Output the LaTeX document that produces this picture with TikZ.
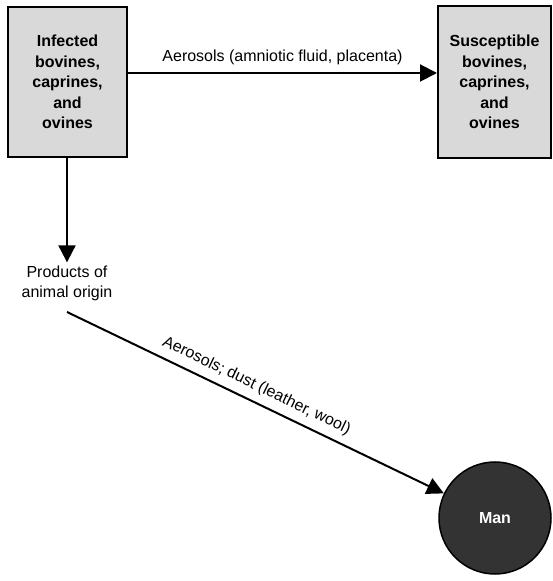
\documentclass[tikz,border=0pt]{standalone}
\usepackage{fontspec}
\setmainfont{Liberation Sans}
\usetikzlibrary{arrows.meta}
\definecolor{boxgray}{HTML}{D9D9D9}
\definecolor{mandark}{HTML}{333333}
\tikzset{
  hostbox/.style={draw=black, line width=2pt, fill=boxgray, align=center,
    font=\fontsize{16}{20.5}\selectfont\bfseries},
  plain/.style={align=center, font=\fontsize{16}{20}\selectfont},
  route/.style={line width=2pt, -{Triangle[length=17pt,width=17pt]}},
  lbl/.style={font=\fontsize{16}{19}\selectfont, inner sep=2pt}
}
\begin{document}
\begin{tikzpicture}[x=1pt,y=1pt]
  \useasboundingbox (0,0) rectangle (552,581);
  % animal hosts
  \node[hostbox, minimum width=119pt, minimum height=150pt] (src) at (67.5,499)
    {Infected\\bovines,\\caprines,\\and\\ovines};
  \node[hostbox, minimum width=113pt, minimum height=152pt] (dst) at (494.5,499)
    {Susceptible\\bovines,\\caprines,\\and\\ovines};
  % products and humans
  \node[plain, inner sep=3pt] (prod) at (67,298) {Products of\\animal origin};
  \coordinate (prodout) at (67,269);
  \node[circle, draw=black, line width=1.5pt, fill=mandark, minimum size=112pt,
    text=white, font=\fontsize{16}{19}\selectfont\bfseries] (man) at (495,63) {Man};
  % transmission routes
  \draw[route] ([yshift=9pt]src.east) -- node[lbl, above=5pt] {Aerosols (amniotic fluid, placenta)} ([yshift=9pt]dst.west);
  \draw[route] (src.south -| prod.north) -- (prod.north);
  \draw[route] (prodout) -- node[lbl, sloped, above=5pt, pos=0.485] {Aerosols; dust (leather, wool)} (man);
\end{tikzpicture}
\end{document}
